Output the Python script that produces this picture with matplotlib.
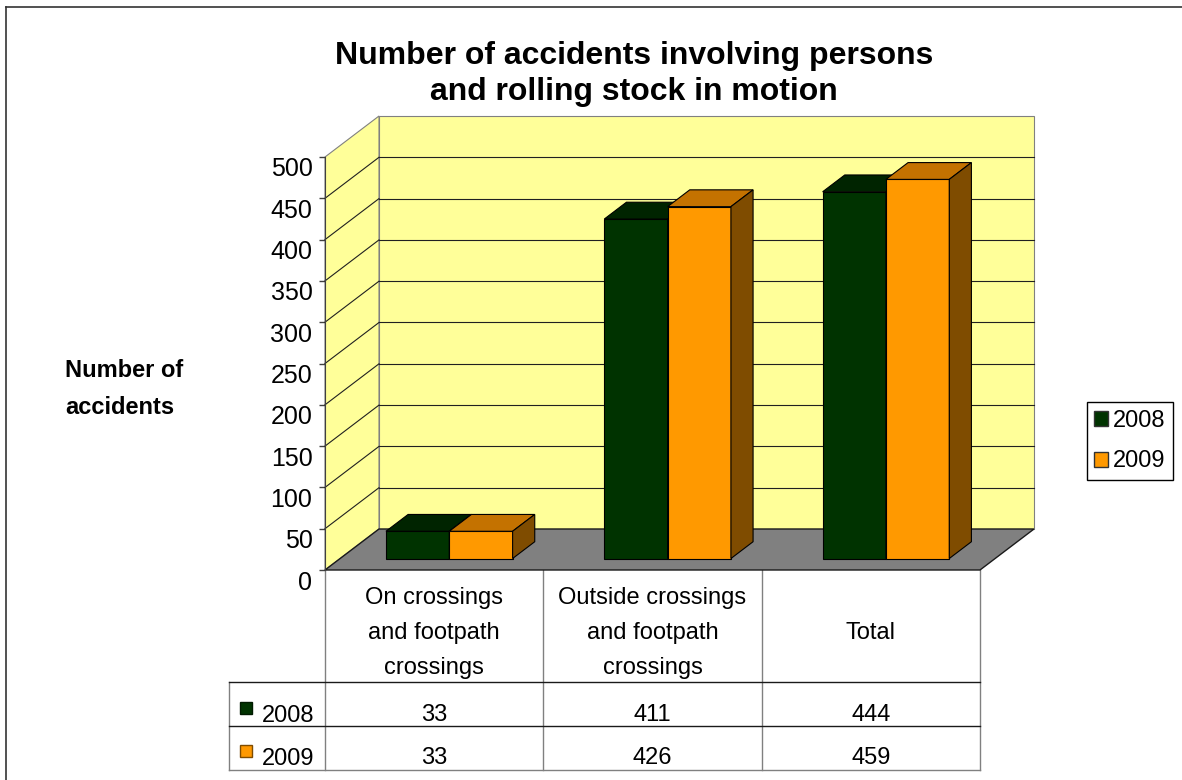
import matplotlib.pyplot as plt
from matplotlib.patches import Polygon, Patch, Rectangle
from matplotlib.transforms import ScaledTranslation, blended_transform_factory

categories = ["On crossings\nand footpath\ncrossings",
              "Outside crossings\nand footpath\ncrossings",
              "Total"]
series = ["2008", "2009"]
values_2008 = [33, 411, 444]
values_2009 = [33, 426, 459]
y_ticks = list(range(0, 501, 50))

front_colors = ["#003300", "#FF9900"]
top_colors = ["#002400", "#C47200"]
side_colors = ["#001A00", "#7F4C00"]

DPI = 100
W, H = 1182, 780
DEPTH_X, DEPTH_Y = 54, 41          # pixel shift from front to back wall

plt.rcParams['font.family'] = ['Liberation Sans', 'DejaVu Sans']
fig = plt.figure(figsize=(W / DPI, H / DPI), dpi=DPI)

# overlay in pixel units for the table, labels and frame
lay = fig.add_axes([0, 0, 1, 1])
lay.set_xlim(0, W)
lay.set_ylim(H, 0)
lay.axis("off")

# value axes: the front plane of the 3-D box
ax = fig.add_axes([325 / W, (H - 570) / H, 655 / W, 413 / H])
ax.set_xlim(0, 3)
ax.set_ylim(0, 500)
ax.patch.set_visible(False)
for s in ["top", "right", "bottom"]:
    ax.spines[s].set_visible(False)
ax.spines["left"].set_color("#404040")
ax.spines["left"].set_zorder(20)
ax.set_xticks([])
ax.set_yticks(y_ticks)
ax.tick_params(axis="y", length=4, width=1, color="#404040",
               labelsize=18, pad=5)
for lbl in ax.get_yticklabels():
    lbl.set_transform(lbl.get_transform()
                      + ScaledTranslation(0, -0.10, fig.dpi_scale_trans))


def depth_offset(frac):
    """Data-unit shift for a point pushed `frac` of the way to the back wall."""
    x0, y0 = ax.transData.transform((0, 0))
    return ax.transData.inverted().transform(
        (x0 + frac * DEPTH_X, y0 + frac * DEPTH_Y))


def poly(pts, fc, ec, lw=0.8, z=1):
    ax.add_patch(Polygon(pts, closed=True, facecolor=fc, edgecolor=ec,
                         linewidth=lw, zorder=z, clip_on=False))


bx, by = depth_offset(1.0)
top_v = y_ticks[-1]
n_cat = len(categories)

# walls and floor
poly([(bx, by), (n_cat + bx, by), (n_cat + bx, top_v + by), (bx, top_v + by)],
     "#FFFF99", "#808080", z=1)
poly([(0, 0), (bx, by), (bx, top_v + by), (0, top_v)],
     "#FFFF99", "#808080", z=1)
for v in y_ticks[1:-1]:
    ax.plot([bx, n_cat + bx], [v + by, v + by], color="#202020", lw=0.8,
            zorder=2, clip_on=False)
    ax.plot([0, bx], [v, v + by], color="#202020", lw=0.8,
            zorder=2, clip_on=False)
poly([(0, 0), (n_cat, 0), (n_cat + bx, by), (bx, by)],
     "#808080", "#1A1A1A", lw=1.0, z=3)


def draw_bar(x0, x1, h, k):
    fx, fy = depth_offset(0.28)
    rx, ry = depth_offset(0.69)
    poly([(x0 + fx, fy), (x1 + fx, fy), (x1 + fx, h + fy), (x0 + fx, h + fy)],
         front_colors[k], "black", z=5 + k)
    poly([(x0 + fx, h + fy), (x1 + fx, h + fy), (x1 + rx, h + ry),
          (x0 + rx, h + ry)], top_colors[k], "black", z=5 + k)
    poly([(x1 + fx, fy), (x1 + rx, ry), (x1 + rx, h + ry), (x1 + fx, h + fy)],
         side_colors[k], "black", z=5 + k)


bar_w = 0.29
for i in range(n_cat):
    draw_bar(i + 0.5 - bar_w, i + 0.5, values_2008[i], 0)
    draw_bar(i + 0.5, i + 0.5 + bar_w, values_2009[i], 1)

# data table under the chart
tx = blended_transform_factory(ax.transData, lay.transData)
row_top, row_mid1, row_mid2, row_bot = 570, 682, 726, 770
key_left = 229
for b in range(n_cat + 1):
    lay.plot([b, b], [row_top, row_bot], color="#808080", lw=1.0,
             transform=tx, clip_on=False)
lay.plot([key_left, key_left], [row_mid1, row_bot], color="#808080", lw=1.0)
for yy, col in [(row_mid1, "#1A1A1A"), (row_mid2, "#1A1A1A"), (row_bot, "#808080")]:
    lay.plot([key_left, 980], [yy, yy], color=col, lw=1.0)

for i, cat in enumerate(categories):
    lay.text(i + 0.5, 633, cat, transform=tx, ha="center", va="center",
             fontsize=17, linespacing=1.75)
    lay.text(i + 0.5, 715, str(values_2008[i]), transform=tx,
             ha="center", va="center", fontsize=17)
    lay.text(i + 0.5, 758, str(values_2009[i]), transform=tx,
             ha="center", va="center", fontsize=17)

for k, (name, yy) in enumerate(zip(series, [702, 745])):
    lay.add_patch(Rectangle((240, yy), 12, 12, facecolor=front_colors[k],
                            edgecolor=side_colors[k], lw=1.0))
    lay.text(262, yy + 14, name, ha="left", va="center", fontsize=17)

# titles
fig.text(634 / W, 1 - 74 / H,
         "Number of accidents involving persons\nand rolling stock in motion",
         ha="center", va="center", fontsize=23, fontweight="bold",
         linespacing=1.25)
lay.text(65, 389, "Number of\naccidents", ha="left", va="center",
         fontsize=17, fontweight="bold", linespacing=1.75)

# legend
handles = [Patch(facecolor=front_colors[k], edgecolor="#333333")
           for k in range(len(series))]
fig.legend(handles, series, loc="center left",
           bbox_to_anchor=(1087 / W, 1 - 441 / H), frameon=True,
           fancybox=False, edgecolor="black", framealpha=1,
           borderaxespad=0, handlelength=0.6, handleheight=0.6,
           handletextpad=0.2, labelspacing=0.8, fontsize=17, borderpad=0.3)

# outer frame of the chart area
lay.plot([6, W], [7, 7], color="#333333", lw=1.2)
lay.plot([6, 6], [7, H], color="#333333", lw=1.2)

fig.savefig("out.png", dpi=DPI)
